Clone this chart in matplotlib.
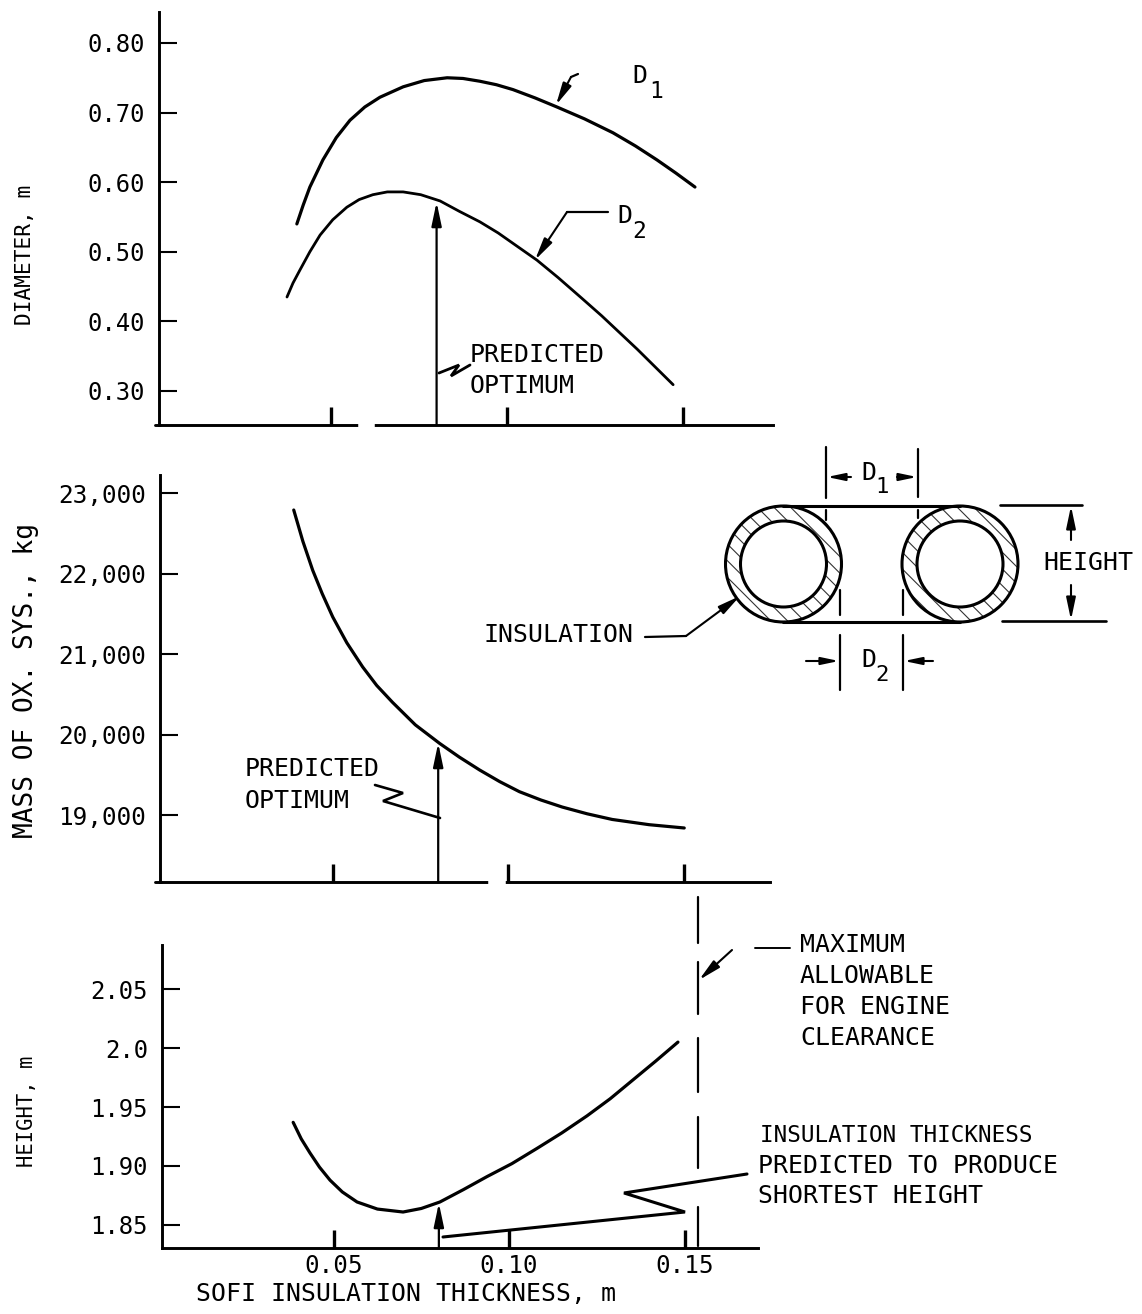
import matplotlib
matplotlib.use("Agg")
import matplotlib.pyplot as plt
from matplotlib.patches import Annulus

W, H = 1142, 1314
FONT = ['DejaVu Sans Mono', 'Liberation Mono']
plt.rcParams['font.family'] = FONT
plt.rcParams['hatch.linewidth'] = 0.8

# ---- data ----
d1_x = [.0403, .0421, .044, .0477, .0515, .0554, .0596, .0639, .0705, .0765, .083, .0875,
        .0923, .097, .1017, .108, .1142, .122, .1301, .1365, .1426, .148, .1534]
d1_y = [.540, .567, .593, .632, .664, .689, .708, .722, .737, .746, .750, .749,
        .745, .740, .733, .721, .708, .691, .671, .652, .632, .613, .593]
d2_x = [.0375, .0392, .0412, .044, .0469, .0505, .0545, .058, .0619, .066, .0705, .0755,
        .081, .0865, .0923, .0975, .1085, .1145, .1213, .1269, .137, .1472]
d2_y = [.435, .455, .474, .500, .524, .546, .564, .575, .582, .586, .586, .582,
        .573, .558, .543, .527, .488, .463, .433, .408, .360, .309]
mass_x = [.0389, .0415, .0443, .047, .050, .054, .0585, .0625, .067, .0735, .0804, .086,
          .0918, .0975, .1031, .1092, .1153, .1224, .1295, .14, .15]
mass_y = [22789, 22400, 22040, 21750, 21460, 21140, 20840, 20610, 20400, 20120, 19890, 19720,
          19559, 19415, 19290, 19187, 19099, 19015, 18945, 18880, 18839]
height_x = [.0385, .0408, .0433, .046, .049, .0525, .0567, .0625, .0698, .075, .0803, .087,
            .0937, .1008, .108, .115, .1222, .1288, .1353, .1418, .1481]
height_y = [1.937, 1.923, 1.911, 1.899, 1.888, 1.878, 1.8695, 1.8635, 1.861, 1.864, 1.8695, 1.880,
            1.891, 1.902, 1.915, 1.928, 1.9425, 1.957, 1.973, 1.989, 2.005]

x_ticks = [0.05, 0.10, 0.15]
x_tick_labels = ['0.05', '0.10', '0.15']
d_ticks = [0.30, 0.40, 0.50, 0.60, 0.70, 0.80]
d_tick_labels = ['0.30', '0.40', '0.50', '0.60', '0.70', '0.80']
m_ticks = [19000, 20000, 21000, 22000, 23000]
m_tick_labels = ['19,000', '20,000', '21,000', '22,000', '23,000']
h_ticks = [1.85, 1.90, 1.95, 2.00, 2.05]
h_tick_labels = ['1.85', '1.90', '1.95', '2.0', '2.05']
optimum_x = 0.080

fig = plt.figure(figsize=(W / 100, H / 100), dpi=100, facecolor='white')


def make_axes(l, t, r, b, xlim, ylim, ylab):
    ax = fig.add_axes([l / W, 1 - b / H, (r - l) / W, (b - t) / H])
    ax.set_xlim(*xlim)
    ax.set_ylim(*ylim)
    ax.patch.set_alpha(0)
    for s in ('top', 'right'):
        ax.spines[s].set_visible(False)
    for s in ('left', 'bottom'):
        ax.spines[s].set_linewidth(2.1)
    ax.tick_params(axis='x', direction='in', length=13, width=2.4, labelsize=17.5)
    ax.tick_params(axis='y', direction='in', length=13, width=1.5, labelsize=ylab, pad=10)
    return ax


# top panel
ax1 = make_axes(159, 12, 773, 425, (0.00114, 0.17557), (0.2511, 0.8445), 17.2)
ax1.plot(d1_x, d1_y, color='k', lw=2.3, solid_capstyle='round')
ax1.plot(d2_x, d2_y, color='k', lw=2.0, solid_capstyle='round')
ax1.set_xticks(x_ticks, labels=[])
ax1.set_yticks(d_ticks, labels=d_tick_labels)

# middle panel
ax2 = make_axes(160, 475, 770, 882, (0.00085, 0.1744), (18168, 23224), 17.6)
ax2.plot(mass_x, mass_y, color='k', lw=2.3, solid_capstyle='round')
ax2.set_xticks(x_ticks, labels=[])
ax2.set_yticks(m_ticks, labels=m_tick_labels)

# bottom panel
ax3 = make_axes(162, 945, 758, 1248, (0.00114, 0.1709), (1.8305, 2.0873), 17.2)
ax3.plot(height_x, height_y, color='k', lw=2.3, solid_capstyle='round')
ax3.set_xticks(x_ticks, labels=x_tick_labels)
ax3.set_yticks(h_ticks, labels=h_tick_labels)
ax3.tick_params(axis='x', pad=4)
ax3.set_xlabel('SOFI INSULATION THICKNESS, m', fontsize=17.9, labelpad=3, x=0.409)

# overlay in pixel coordinates for the hand-drawn annotations
ov = fig.add_axes([0, 0, 1, 1], zorder=10)
ov.set_xlim(0, W)
ov.set_ylim(H, 0)
ov.axis('off')
ov.patch.set_alpha(0)


def line(pts, lw=1.6):
    xs, ys = zip(*pts)
    ov.plot(xs, ys, color='k', lw=lw, solid_capstyle='round', solid_joinstyle='miter')


def arrow(p0, p1, lw=1.5, size=14):
    ov.annotate('', xy=p1, xytext=p0, xycoords='data', textcoords='data',
                arrowprops=dict(arrowstyle='-|>,head_length=0.95,head_width=0.2', color='k',
                                lw=lw, shrinkA=0, shrinkB=0, mutation_scale=size))


def txt(x, y, s, size=17.9, **kw):
    ov.text(x, y, s, fontsize=size, va='center', ha=kw.pop('ha', 'left'), color='k', **kw)


# axis labels
txt(25, 255, 'DIAMETER, m', size=15.2, rotation=90, ha='center')
txt(26, 680, 'MASS OF OX. SYS., kg', size=18.8, rotation=90, ha='center')
txt(27, 1111, 'HEIGHT, m', size=14.8, rotation=90, ha='center')

# gaps and stubs of the baselines
line([(155, 425), (160, 425)], 2.1)
line([(155, 882), (161, 882)], 2.1)
ov.plot([361, 372], [425, 425], color='white', lw=4)
ov.plot([491, 503], [882, 882], color='white', lw=4)

# optimum arrows, from the x position of the optimum in each panel
for ax, y_base, y_tip in [(ax1, 425, 202), (ax2, 882, 743), (ax3, 1248, 1203)]:
    px = ax.transData.transform((optimum_x, 0))[0]
    arrow((px, y_base), (px, y_tip), lw=1.6, size=15)

# top panel notes
txt(632, 76, 'D')
txt(649, 92, '1', size=16.5)
line([(578, 74), (571, 77)])
arrow((571, 77), (556, 105))
txt(617, 216, 'D')
txt(632, 232, '2', size=16.5)
line([(608, 212), (567, 212)])
arrow((567, 212), (535, 260))
line([(439, 373), (459, 365), (451, 376), (470, 365)], 2.0)
txt(470, 355, 'PREDICTED')
txt(470, 386, 'OPTIMUM')

# middle panel notes
txt(245, 769, 'PREDICTED')
txt(245, 801, 'OPTIMUM')
line([(440, 818), (383, 801), (403, 793), (375, 785)], 1.9)

# diagram
for cx, cy in [(783.5, 564), (960, 564)]:
    ov.add_patch(Annulus((cx, cy), 58, 15, facecolor='none', edgecolor='k', hatch='\\\\', lw=0, alpha=0.8))
    ov.add_patch(plt.Circle((cx, cy), 58, fill=False, edgecolor='k', lw=2.2))
    ov.add_patch(plt.Circle((cx, cy), 43, fill=False, edgecolor='k', lw=2.2))
line([(783, 506), (960, 506)], 2.2)
line([(783, 622), (960, 622)], 2.2)
line([(826, 447), (826, 498)])
line([(826, 510), (826, 520)])
line([(918, 449), (918, 497)])
line([(918, 510), (918, 518)])
arrow((851, 477), (827, 477), size=11)
arrow((897, 477), (917, 477), size=11)
txt(861, 473, 'D')
txt(875, 487, '1', size=16)
line([(840, 590), (840, 615)])
line([(840, 635), (840, 690)])
line([(903, 590), (903, 615)])
line([(903, 635), (903, 690)])
arrow((806, 661), (839, 661), size=11)
arrow((933, 661), (904, 661), size=11)
txt(861, 660, 'D')
txt(875, 675, '2', size=16)
line([(1000, 505), (1082, 505)], 1.9)
line([(1002, 621), (1106, 621)], 1.9)
arrow((1071, 540), (1071, 506))
arrow((1071, 585), (1071, 620))
txt(1043, 563, 'HEIGHT')
txt(484, 635, 'INSULATION')
line([(645, 637), (686, 636)])
arrow((686, 636), (740, 596))

# bottom panel notes
for y0, y1 in [(897, 943), (962, 1014), (1038, 1092), (1117, 1168), (1207, 1246)]:
    line([(698, y0), (698, y1)], 1.6)
txt(800, 945, 'MAXIMUM')
txt(800, 976, 'ALLOWABLE')
txt(800, 1007, 'FOR ENGINE')
txt(800, 1038, 'CLEARANCE')
line([(755, 948), (790, 948)], 1.4)
arrow((732, 950), (699, 980))
line([(443, 1237), (685, 1212), (624, 1193), (747, 1174)], 2.2)
txt(760, 1135, 'INSULATION THICKNESS', size=16.3)
txt(758, 1166, 'PREDICTED TO PRODUCE')
txt(758, 1196, 'SHORTEST HEIGHT')

fig.savefig('out.png', dpi=100, facecolor='white')
